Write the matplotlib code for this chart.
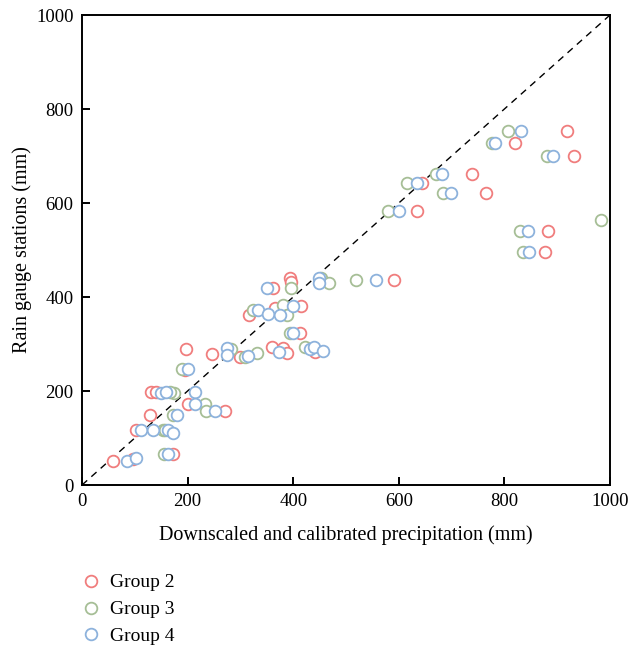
import matplotlib
matplotlib.use("Agg")
import matplotlib.pyplot as plt

plt.rcParams['font.family'] = ['Liberation Serif', 'DejaVu Serif']

# Downscaled/calibrated precipitation (x) vs. rain gauge stations (y), in mm
g2_x = [919, 821, 932, 739, 643, 766, 635, 882, 876, 591,
        393, 395, 361, 414, 365, 317, 412, 359, 380, 389, 441, 197, 246, 299,
        195, 201, 271, 130, 140, 128, 102, 173, 59, 96]
g2_y = [754, 727, 701, 662, 642, 622, 583, 541, 496, 436,
        441, 431, 420, 380, 376, 362, 323, 293, 291, 281, 283, 289, 278, 273,
        245, 173, 158, 197, 197, 148, 116, 67, 52, 55]

g3_x = [807, 776, 880, 670, 615, 683, 580, 983, 830, 836, 519,
        452, 468, 395, 380, 324, 388, 393, 422, 283, 309, 331,
        189, 233, 235, 174, 166, 173, 153, 158, 155]
g3_y = [754, 727, 701, 662, 642, 622, 583, 564, 541, 496, 436,
        441, 430, 420, 383, 372, 362, 323, 293, 289, 273, 281,
        246, 173, 158, 196, 197, 148, 117, 117, 67]

g4_x = [831, 782, 892, 681, 635, 698, 601, 845, 847, 557,
        449, 449, 350, 399, 334, 353, 375, 399, 374, 432, 439, 456, 274, 275, 315,
        201, 214, 214, 252, 149, 159, 180, 111, 134, 163, 172, 163, 85, 103]
g4_y = [754, 727, 701, 662, 642, 622, 583, 541, 496, 436,
        441, 430, 420, 380, 372, 364, 362, 323, 282, 290, 293, 286, 291, 277, 275,
        246, 198, 173, 158, 196, 197, 148, 116, 116, 118, 111, 67, 52, 57]

groups = ["Group 2", "Group 3", "Group 4"]
colors = ["#F07D7D", "#A6BE96", "#8DB2DC"]

fig = plt.figure(figsize=(6.32, 6.52), dpi=100)
ax = fig.add_axes([82 / 632, 1 - 485 / 652, 528 / 632, 470 / 652])

# 1:1 reference line
ax.plot([0, 1000], [0, 1000], color="black", lw=1.0, ls=(0, (5, 4)), zorder=1)

for xs, ys, lab, c in zip([g2_x, g3_x, g4_x], [g2_y, g3_y, g4_y], groups, colors):
    ax.plot(xs, ys, ls="none", marker="o", ms=8.4, mfc="white", mec=c,
            mew=1.3, label=lab, zorder=2)

ax.set_xlim(0, 1000)
ax.set_ylim(0, 1000)
ax.set_xticks([0, 200, 400, 600, 800, 1000])
ax.set_yticks([0, 200, 400, 600, 800, 1000])
ax.tick_params(direction="in", length=6, width=1.4, labelsize=13.5, pad=6)
for s in ax.spines.values():
    s.set_linewidth(1.4)

ax.set_xlabel("Downscaled and calibrated precipitation (mm)", fontsize=14.5, labelpad=11)
ax.set_ylabel("Rain gauge stations (mm)", fontsize=14.5, labelpad=3)

handles, labels = ax.get_legend_handles_labels()
fig.legend(handles, labels, loc="upper left", bbox_to_anchor=(73 / 632, 1 - 566 / 652),
           frameon=False, fontsize=14, handletextpad=0.5, labelspacing=0.48,
           handlelength=1.0, borderaxespad=0)

fig.savefig("out.png", dpi=100)
